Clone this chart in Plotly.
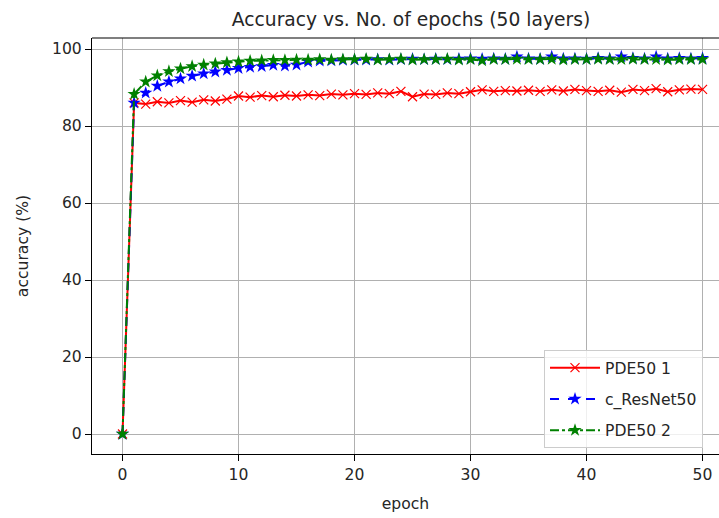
import plotly.graph_objects as go

epochs = list(range(51))

pde50_1 = [0, 86.0, 85.7, 86.3, 86.0, 86.6, 86.2, 86.8, 86.5, 87.0, 87.8, 87.5, 87.9, 87.6,
           88.0, 87.8, 88.1, 87.9, 88.3, 88.1, 88.4, 88.2, 88.6, 88.4, 89.0, 87.6, 88.3, 88.2,
           88.6, 88.4, 88.9, 89.4, 89.0, 89.2, 89.1, 89.3, 89.0, 89.4, 89.1, 89.5, 89.2, 89.0,
           89.3, 88.8, 89.5, 89.2, 89.7, 88.9, 89.4, 89.6, 89.5]

c_resnet50 = [0, 86.0, 88.6, 90.4, 91.5, 92.3, 93.0, 93.6, 94.1, 94.5, 95.0, 95.3, 95.5, 95.8,
              95.6, 95.9, 96.7, 96.9, 97.0, 97.1, 97.2, 97.2, 97.3, 97.2, 97.3, 97.4, 97.3,
              97.4, 97.3, 97.4, 97.5, 97.4, 97.5, 97.4, 98.0, 97.5, 97.4, 98.0, 97.5, 97.5,
              97.4, 97.6, 97.5, 98.0, 97.6, 97.5, 98.0, 97.5, 97.6, 97.5, 97.6]

pde50_2 = [0, 88.3, 91.5, 93.1, 94.2, 94.9, 95.5, 95.9, 96.2, 96.5, 96.7, 96.9, 97.0, 97.1,
           97.1, 97.2, 97.2, 97.3, 97.2, 97.3, 97.3, 97.4, 97.2, 97.3, 97.4, 97.2, 97.3, 97.3,
           97.4, 97.2, 97.3, 97.0, 97.3, 97.3, 97.4, 97.3, 97.3, 97.4, 97.2, 97.3, 97.3, 97.4,
           97.3, 97.3, 97.4, 97.3, 97.3, 97.2, 97.3, 97.3, 97.3]

x_ticks = [0, 10, 20, 30, 40, 50]
y_ticks = [0, 20, 40, 60, 80, 100]

FONT = "DejaVu Sans"
TXT = "#262626"

fig = go.Figure()
fig.add_trace(go.Scatter(
    x=epochs, y=pde50_1, name="PDE50 1", mode="lines+markers", legendgroup="a",
    line=dict(color="#ff0000", width=2.0),
    marker=dict(symbol="x-thin-open", size=9, color="#ff0000", line=dict(color="#ff0000", width=1.2)),
))
fig.add_trace(go.Scatter(
    x=epochs, y=c_resnet50, name="c_ResNet50", mode="lines+markers", legendgroup="b",
    line=dict(color="#0000ff", width=2.0, dash="dash"),
    marker=dict(symbol="star", size=10, color="#0000ff"),
))
fig.add_trace(go.Scatter(
    x=epochs, y=pde50_2, name="PDE50 2", mode="lines+markers", legendgroup="c",
    line=dict(color="#008000", width=2.0, dash="dashdot"),
    marker=dict(symbol="star", size=10, color="#008000"),
))

fig.update_layout(
    width=719, height=518,
    margin=dict(l=92, r=0, t=38, b=64, autoexpand=False),
    paper_bgcolor="white", plot_bgcolor="white",
    font=dict(family=FONT, size=15.6, color=TXT),
    title=dict(text="Accuracy vs. No. of epochs (50 layers)", x=411 / 719, xref="container",
               xanchor="center", y=1 - 19 / 518, yref="container", yanchor="middle",
               font=dict(family=FONT, size=18.7, color=TXT)),
    showlegend=True,
    legend=dict(x=(544 - 92) / 627, y=(454 - 350) / 416, xanchor="left", yanchor="top",
                bgcolor="rgba(255,255,255,0.8)", bordercolor="#cccccc", borderwidth=1,
                itemwidth=50, tracegroupgap=8,
                font=dict(family=FONT, size=15.6, color=TXT)),
    shapes=[dict(type="line", xref="paper", yref="paper", x0=0, x1=1, y0=1, y1=1,
                 line=dict(color="black", width=1.2))],
)
fig.update_xaxes(
    range=[-2.63, 51.42], tickvals=x_ticks, ticks="outside", ticklen=6, tickcolor="black",
    showline=True, linecolor="black", linewidth=1.2, showgrid=True, gridcolor="#b0b0b0",
    gridwidth=1, zeroline=False,
    title=dict(text="epoch", standoff=15, font=dict(family=FONT, size=15.6, color=TXT)),
)
fig.update_yaxes(
    range=[-5.19, 102.86], tickvals=y_ticks, ticks="outside", ticklen=6, tickcolor="black",
    showline=True, linecolor="black", linewidth=1.2, showgrid=True, gridcolor="#b0b0b0",
    gridwidth=1, zeroline=False,
    title=dict(text="accuracy (%)", standoff=19, font=dict(family=FONT, size=15.6, color=TXT)),
)

fig.write_html("out.html", config={"displayModeBar": False},
               post_script="document.body.style.margin='0';")
